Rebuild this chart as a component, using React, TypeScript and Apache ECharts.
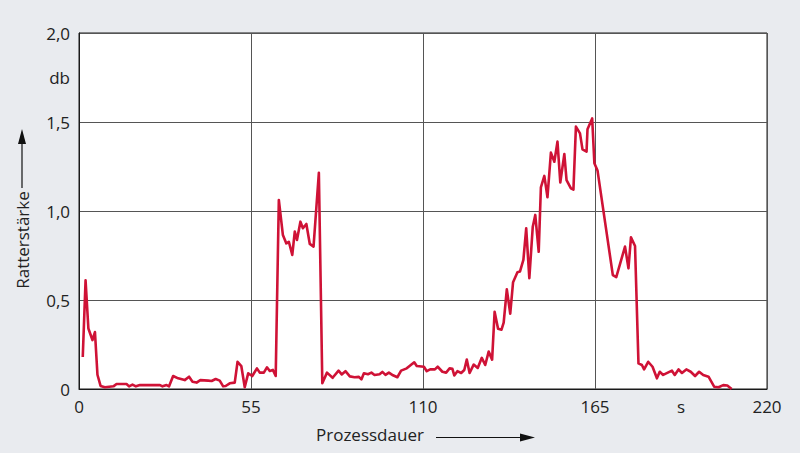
import React, { useEffect, useRef } from "react";
import * as echarts from "echarts";

const times: number[] = [
  1.2, 2.1, 3.0, 4.3, 5.1, 5.9, 6.9, 8.3, 11.0, 12.0, 15.2, 16.0, 17.1, 18.2, 19.5, 25.9, 26.7, 28.0, 28.8,
  30.1, 31.7, 33.8, 35.2, 36.3, 37.6, 38.8, 41.3, 42.4, 43.7, 45.0, 46.1, 46.9, 48.2, 49.8, 50.7, 51.9, 53.0,
  54.1, 55.4, 56.9, 57.8, 59.1, 60.1, 61.0, 62.0, 62.9, 63.9, 65.2, 66.3, 67.1, 68.2, 69.0, 69.7, 70.8, 71.6,
  72.7, 73.8, 75.0, 76.7, 77.8, 79.3, 81.1, 83.0, 84.0, 85.2, 86.6, 88.1, 89.5, 90.3, 91.1, 92.4, 93.5, 94.5,
  96.1, 97.0, 98.0, 99.1, 100.4, 101.8, 103.0, 104.8, 105.7, 107.2, 108.0, 110.3, 111.2, 112.3, 113.8, 114.7,
  116.2, 117.4, 118.5, 119.4, 120.0, 121.0, 122.2, 123.2, 124.0, 124.9, 126.2, 127.5, 128.8, 129.9, 131.0,
  132.1, 132.9, 134.0, 135.1, 135.8, 136.8, 137.9, 138.8, 140.2, 141.0, 142.1, 143.0, 144.0, 145.1, 145.9,
  147.0, 147.7, 148.8, 149.8, 150.9, 152.0, 153.0, 153.9, 155.2, 155.9, 157.3, 158.1, 158.9, 160.2, 161.0,
  162.3, 162.6, 164.1, 164.8, 165.8, 170.7, 171.8, 174.6, 175.7, 176.5, 177.8, 178.9, 180.0, 180.7, 182.0,
  183.4, 184.8, 185.7, 186.8, 189.6, 190.5, 191.7, 192.8, 194.2, 195.6, 197.0, 198.3, 199.6, 201.3, 203.1,
  204.5, 206.0, 207.3, 208.7,
];

const ratterValues: number[] = [
  0.18, 0.61, 0.34, 0.275, 0.32, 0.08, 0.017, 0.01, 0.015, 0.028, 0.028, 0.015, 0.025, 0.015, 0.022, 0.022,
  0.015, 0.022, 0.015, 0.073, 0.06, 0.05, 0.069, 0.041, 0.036, 0.05, 0.047, 0.045, 0.056, 0.047, 0.015, 0.017,
  0.032, 0.036, 0.153, 0.129, 0.01, 0.088, 0.073, 0.116, 0.092, 0.092, 0.122, 0.101, 0.107, 0.073, 1.062,
  0.865, 0.818, 0.827, 0.753, 0.884, 0.837, 0.94, 0.903, 0.927, 0.815, 0.8, 1.215, 0.032, 0.092, 0.063, 0.103,
  0.082, 0.1, 0.071, 0.066, 0.068, 0.054, 0.088, 0.083, 0.092, 0.079, 0.083, 0.096, 0.079, 0.092, 0.077,
  0.066, 0.103, 0.116, 0.129, 0.15, 0.129, 0.125, 0.1, 0.11, 0.11, 0.125, 0.097, 0.092, 0.116, 0.113, 0.076,
  0.1, 0.09, 0.107, 0.165, 0.09, 0.137, 0.118, 0.175, 0.135, 0.21, 0.165, 0.434, 0.338, 0.333, 0.373, 0.56,
  0.423, 0.6, 0.656, 0.66, 0.725, 0.903, 0.622, 0.912, 0.978, 0.771, 1.133, 1.197, 1.077, 1.328, 1.277, 1.39,
  1.16, 1.32, 1.174, 1.127, 1.12, 1.474, 1.436, 1.346, 1.333, 1.459, 1.52, 1.268, 1.228, 0.64, 0.629, 0.8,
  0.678, 0.852, 0.803, 0.144, 0.135, 0.11, 0.153, 0.125, 0.06, 0.097, 0.079, 0.103, 0.079, 0.11, 0.09, 0.11,
  0.097, 0.073, 0.097, 0.079, 0.069, 0.013, 0.01, 0.022, 0.02, 0.0,
];

const xTicks: number[] = [0, 55, 110, 165, 220];
const yTicks: number[] = [0, 0.5, 1.0, 1.5, 2.0];
const xUnit = { value: 192.5, label: "s" };
const yUnit = { value: 1.75, label: "db" };
const xName = "Prozessdauer";
const yName = "Ratterstärke";

const FONT = "'Open Sans', 'Noto Sans', sans-serif";
const FS = 17;
const TEXT = "#222";
const LINE = "#cf1236";

export default function App() {
  const ref = useRef<HTMLDivElement>(null);

  useEffect(() => {
    document.body.style.margin = "0";
    if (!ref.current) return;
    const chart = echarts.init(ref.current, null, { renderer: "svg" });
    const data = times.map((t, i) => [t, ratterValues[i]]);
    const fmtY = (v: number) => (Math.abs(v) < 1e-9 ? "0" : v.toFixed(1).replace(".", ","));

    chart.setOption({
      animation: false,
      backgroundColor: "#e9ebef",
      grid: {
        left: 79,
        right: 33,
        top: 33,
        bottom: 64,
        show: true,
        backgroundColor: "#ffffff",
        borderColor: "#1a1a1a",
        borderWidth: 1,
      },
      xAxis: [
        {
          type: "value",
          min: xTicks[0],
          max: xTicks[xTicks.length - 1],
          interval: 55,
          axisLine: { show: true, lineStyle: { color: "#1a1a1a", width: 1 } },
          axisTick: { show: false },
          splitLine: { show: true, lineStyle: { color: "#555", width: 1 } },
          axisLabel: {
            showMinLabel: true,
            showMaxLabel: true,
            margin: 9,
            fontSize: FS,
            fontFamily: FONT,
            color: TEXT,
            formatter: (v: number) => String(v),
          },
        },
        {
          type: "value",
          position: "bottom",
          min: 0,
          max: 220,
          interval: 27.5,
          axisLine: { show: false },
          axisTick: { show: false },
          splitLine: { show: false },
          axisLabel: {
            margin: 9,
            fontSize: FS,
            fontFamily: FONT,
            color: TEXT,
            formatter: (v: number) => (Math.abs(v - xUnit.value) < 0.01 ? xUnit.label : ""),
          },
        },
      ],
      yAxis: [
        {
          type: "value",
          min: yTicks[0],
          max: yTicks[yTicks.length - 1],
          interval: 0.5,
          axisLine: { show: true, lineStyle: { color: "#1a1a1a", width: 1 } },
          axisTick: { show: false },
          splitLine: { show: true, lineStyle: { color: "#555", width: 1 } },
          axisLabel: {
            showMinLabel: true,
            showMaxLabel: true,
            margin: 9,
            fontSize: FS,
            fontFamily: FONT,
            color: TEXT,
            formatter: fmtY,
          },
        },
        {
          type: "value",
          position: "left",
          min: 0,
          max: 2,
          interval: 0.25,
          axisLine: { show: false },
          axisTick: { show: false },
          splitLine: { show: false },
          axisLabel: {
            margin: 9,
            fontSize: FS,
            fontFamily: FONT,
            color: TEXT,
            formatter: (v: number) => (Math.abs(v - yUnit.value) < 0.001 ? yUnit.label : ""),
          },
        },
      ],
      graphic: [
        {
          type: "text",
          left: 316,
          top: 426,
          style: { text: xName, fontSize: FS, fontFamily: FONT, fill: TEXT },
        },
        {
          type: "line",
          shape: { x1: 436, y1: 437.5, x2: 524, y2: 437.5 },
          style: { stroke: "#111", lineWidth: 1.2 },
        },
        {
          type: "polygon",
          shape: { points: [[520, 433.5], [535, 437.5], [520, 441.5]] },
          style: { fill: "#111" },
        },
        {
          type: "text",
          x: 22,
          y: 240,
          rotation: Math.PI / 2,
          style: {
            text: yName,
            fontSize: FS,
            fontFamily: FONT,
            fill: TEXT,
            align: "center",
            verticalAlign: "middle",
          },
        },
        {
          type: "line",
          shape: { x1: 22, y1: 188, x2: 22, y2: 140 },
          style: { stroke: "#111", lineWidth: 1.2 },
        },
        {
          type: "polygon",
          shape: { points: [[18, 144], [22, 129], [26, 144]] },
          style: { fill: "#111" },
        },
      ],
      series: [
        {
          type: "line",
          xAxisIndex: 0,
          yAxisIndex: 0,
          data,
          showSymbol: false,
          symbol: "none",
          lineStyle: { color: LINE, width: 2.6, join: "round" },
          itemStyle: { color: LINE },
        },
      ],
    });

    return () => chart.dispose();
  }, []);

  return <div ref={ref} style={{ width: 800, height: 453 }} />;
}
